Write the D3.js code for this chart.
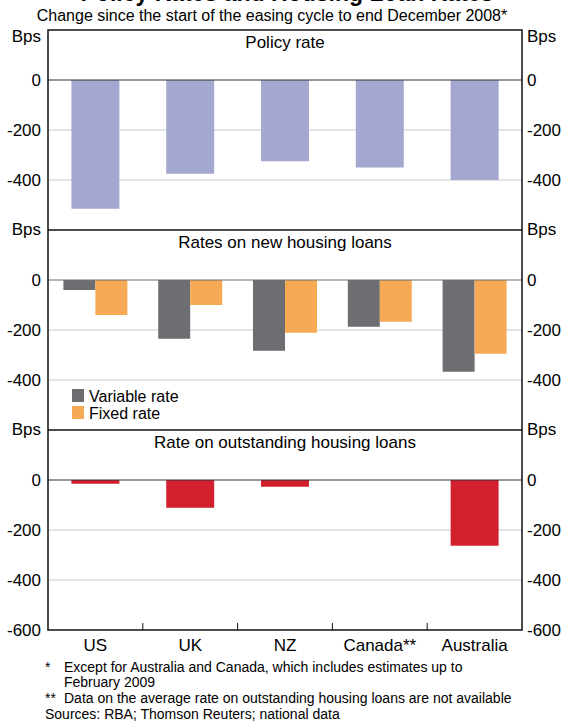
<!DOCTYPE html>
<html>
<head>
<meta charset="utf-8">
<script src="https://cdn.jsdelivr.net/npm/d3@7"></script>
<style>
  html, body { margin: 0; padding: 0; background: #fff; }
  svg { display: block; font-family: "Liberation Sans", Arial, sans-serif; }
</style>
</head>
<body>
<svg id="chart" width="562" height="722"></svg>
<script>
// ---- data ----
const categories = ["US", "UK", "NZ", "Canada**", "Australia"];
const policyRate = [-515, -375, -325, -350, -400];
const variableRate = [-40, -235, -283, -187, -367];
const fixedRate = [-140, -100, -211, -167, -295];
const outstandingRate = [-15, -111, -27, null, -263];
const yTicksUpper = [-400, -200, 0];
const yTicksLower = [-600, -400, -200, 0];
const panelTitles = ["Policy rate", "Rates on new housing loans", "Rate on outstanding housing loans"];
const legendLabels = ["Variable rate", "Fixed rate"];
const footnotes = [
  ["*", "Except for Australia and Canada, which includes estimates up to"],
  ["", "February 2009"],
  ["**", "Data on the average rate on outstanding housing loans are not available"]
];
const sourcesText = "Sources: RBA; Thomson Reuters; national data";

// ---- layout ----
const W = 562;
const left = 48, right = 522;
const panelTops = [30, 230, 430];
const panelH = 200;
const colors = { policy: "#a4a7cf", variable: "#6d6e71", fixed: "#f7aa55", outstanding: "#d2202e", grid: "#c5c9cc" };
const FONT = 17;
const fmt = d => String(d);

const svg = d3.select("#chart");

// title & subtitle
svg.append("text").attr("x", 287).attr("y", 1).attr("text-anchor", "middle")
  .attr("font-weight", "bold").attr("font-size", 23).text("Policy Rates and Housing Loan Rates");
svg.append("text").attr("x", 272).attr("y", 21).attr("text-anchor", "middle")
  .attr("font-size", 16).text("Change since the start of the easing cycle to end December 2008*");

const x = d3.scaleBand().domain(categories).range([left, right]).padding(0);
const singleW = x.bandwidth() * 0.506;
const xInner = d3.scaleBand().domain(["variable", "fixed"]).range([0, x.bandwidth() * 0.675]).padding(0);
const groupOffset = (x.bandwidth() - x.bandwidth() * 0.675) / 2;

const panels = [];
panelTops.forEach((top, i) => {
  const y = d3.scaleLinear().domain([-600, 200]).range([top + panelH, top]);
  const g = svg.append("g");
  panels.push({ g, y, top });
  const ticks = i === 2 ? yTicksLower : yTicksUpper;

  // gridlines
  g.selectAll("line.grid").data([-400, -200]).join("line")
    .attr("x1", left).attr("x2", right)
    .attr("y1", d => y(d)).attr("y2", d => y(d))
    .attr("stroke", colors.grid).attr("stroke-width", 1);

  // axes
  const la = g.append("g").attr("transform", `translate(${left},0)`)
    .call(d3.axisLeft(y).tickValues(ticks).tickSize(0).tickPadding(7).tickFormat(fmt));
  la.select(".domain").remove();
  la.selectAll("text").attr("font-size", FONT).attr("font-family", null).attr("fill", "#000");
  const ra = g.append("g").attr("transform", `translate(${right},0)`)
    .call(d3.axisRight(y).tickValues(ticks).tickSize(0).tickPadding(5).tickFormat(fmt));
  ra.select(".domain").remove();
  ra.selectAll("text").attr("font-size", FONT).attr("font-family", null).attr("fill", "#000");

  // Bps labels
  const bpsY = i === 0 ? top + 11.5 : top + 5;
  g.append("text").attr("x", left - 7).attr("y", bpsY).attr("text-anchor", "end").attr("font-size", FONT).text("Bps");
  g.append("text").attr("x", right + 5).attr("y", bpsY).attr("text-anchor", "start").attr("font-size", FONT).text("Bps");

  // panel title
  g.append("text").attr("x", (left + right) / 2).attr("y", top + 18).attr("text-anchor", "middle")
    .attr("font-size", FONT).text(panelTitles[i]);
});

// panel 1 bars
panels[0].g.append("g").selectAll("rect").data(categories.map((c, i) => ({ c, v: policyRate[i] }))).join("rect")
  .attr("x", d => x(d.c) + (x.bandwidth() - singleW) / 2)
  .attr("width", singleW)
  .attr("y", d => panels[0].y(0))
  .attr("height", d => panels[0].y(d.v) - panels[0].y(0))
  .attr("fill", colors.policy);

// panel 2 bars
const grouped = [];
categories.forEach((c, i) => {
  grouped.push({ c, s: "variable", v: variableRate[i] });
  grouped.push({ c, s: "fixed", v: fixedRate[i] });
});
panels[1].g.append("g").selectAll("rect").data(grouped).join("rect")
  .attr("x", d => x(d.c) + groupOffset + xInner(d.s))
  .attr("width", xInner.bandwidth())
  .attr("y", panels[1].y(0))
  .attr("height", d => panels[1].y(d.v) - panels[1].y(0))
  .attr("fill", d => colors[d.s]);

// legend
const lg = panels[1].g.append("g");
legendLabels.forEach((lab, i) => {
  const yy = 389 + i * 17;
  lg.append("rect").attr("x", 72).attr("y", yy).attr("width", 12).attr("height", 13)
    .attr("fill", i === 0 ? colors.variable : colors.fixed);
  lg.append("text").attr("x", 89).attr("y", yy + 12.5).attr("font-size", 16).text(lab);
});

// panel 3 bars
panels[2].g.append("g").selectAll("rect")
  .data(categories.map((c, i) => ({ c, v: outstandingRate[i] })).filter(d => d.v !== null)).join("rect")
  .attr("x", d => x(d.c) + (x.bandwidth() - singleW) / 2)
  .attr("width", singleW)
  .attr("y", panels[2].y(0))
  .attr("height", d => panels[2].y(d.v) - panels[2].y(0))
  .attr("fill", colors.outstanding);

// zero lines
panels.forEach((p, i) => {
  p.g.append("line").attr("x1", left).attr("x2", right).attr("y1", p.y(0)).attr("y2", p.y(0))
    .attr("stroke", i === 1 ? "#6f6f72" : "#333").attr("stroke-width", 1.2);
});

// frame: outer border and panel separators
const frame = svg.append("g").attr("stroke", "#111").attr("stroke-width", 1.5).attr("fill", "none");
frame.append("rect").attr("x", left).attr("y", panelTops[0]).attr("width", right - left).attr("height", panelH * 3);
panelTops.slice(1).forEach(t => {
  frame.append("line").attr("x1", left).attr("x2", right).attr("y1", t).attr("y2", t);
});

// bottom category axis
const bottom = panelTops[2] + panelH;
const ba = svg.append("g").attr("transform", `translate(0,${bottom})`)
  .call(d3.axisBottom(x).tickSize(0).tickPadding(9));
ba.select(".domain").remove();
ba.selectAll("text").attr("font-size", FONT).attr("font-family", null).attr("fill", "#000");
// category boundary ticks pointing up
svg.append("g").selectAll("line").data(categories.slice(1)).join("line")
  .attr("x1", d => x(d)).attr("x2", d => x(d))
  .attr("y1", bottom).attr("y2", bottom - 7)
  .attr("stroke", "#111").attr("stroke-width", 1);

// footnotes
const fn = svg.append("g").attr("font-size", 14);
const fnBase = [672, 687, 703];
footnotes.forEach((f, i) => {
  if (f[0]) fn.append("text").attr("x", 45).attr("y", fnBase[i]).text(f[0]);
  fn.append("text").attr("x", 64).attr("y", fnBase[i]).text(f[1]);
});
fn.append("text").attr("x", 45).attr("y", 719).text(sourcesText);
</script>
</body>
</html>
